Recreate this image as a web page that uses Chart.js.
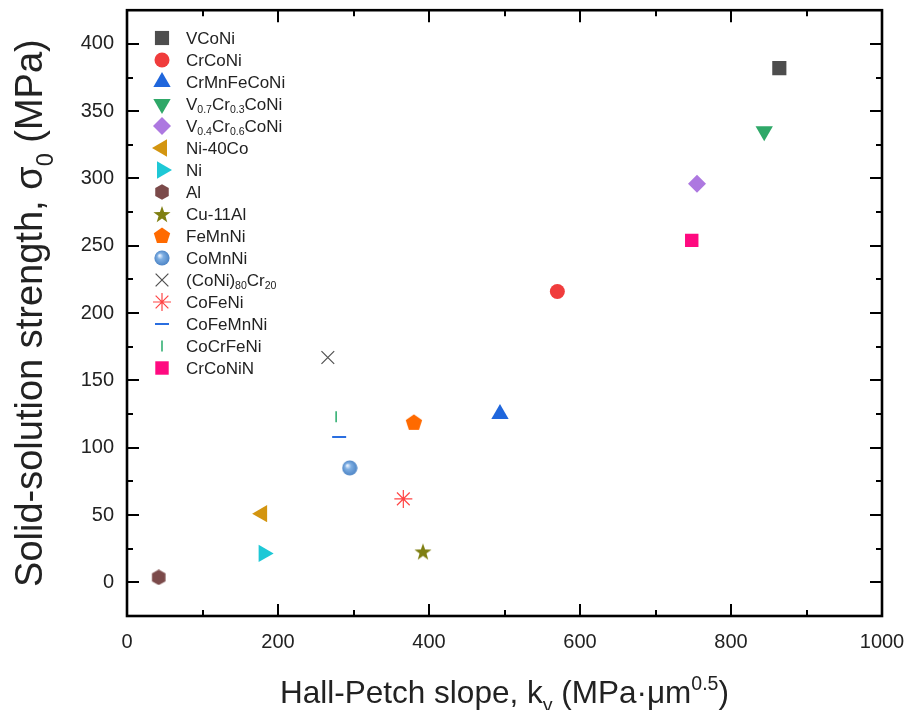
<!DOCTYPE html>
<html>
<head>
<meta charset="utf-8">
<script src="https://cdn.jsdelivr.net/npm/chart.js@4.4.0/dist/chart.umd.min.js"></script>
<style>
  html, body { margin: 0; padding: 0; background: #fff; }
</style>
</head>
<body>
<canvas id="hpChart" width="910" height="710"></canvas>
<script>
// materials, legend labels (with _{sub}) and values
const materials = ['VCoNi', 'CrCoNi', 'CrMnFeCoNi', 'V0.7Cr0.3CoNi', 'V0.4Cr0.6CoNi', 'Ni-40Co', 'Ni', 'Al',
  'Cu-11Al', 'FeMnNi', 'CoMnNi', '(CoNi)80Cr20', 'CoFeNi', 'CoFeMnNi', 'CoCrFeNi', 'CrCoNiN'];
const legendLabels = ['VCoNi', 'CrCoNi', 'CrMnFeCoNi', 'V_{0.7}Cr_{0.3}CoNi', 'V_{0.4}Cr_{0.6}CoNi', 'Ni-40Co', 'Ni', 'Al',
  'Cu-11Al', 'FeMnNi', 'CoMnNi', '(CoNi)_{80}Cr_{20}', 'CoFeNi', 'CoFeMnNi', 'CoCrFeNi', 'CrCoNiN'];
const kyValues = [864, 570, 494, 844, 755, 179, 181, 42, 392, 380, 295, 266, 366, 281, 277, 748];
const sigmaValues = [382, 216, 125, 335, 296, 51, 21.5, 3.7, 23, 118.5, 85, 167, 62, 108, 123, 254];
const xTicks = [0, 200, 400, 600, 800, 1000];
const yTicks = [0, 50, 100, 150, 200, 250, 300, 350, 400];

const FONT = '"Liberation Sans", Arial, sans-serif';

// little canvases for the marker shapes chart.js does not have
function shapeCanvas(size, draw) {
  const c = document.createElement('canvas');
  c.width = size; c.height = size;
  draw(c.getContext('2d'), size / 2);
  return c;
}
function polygon(ctx, c, r, n, start) {
  ctx.beginPath();
  for (let i = 0; i < n; i++) {
    const a = start + i * 2 * Math.PI / n;
    ctx.lineTo(c + r * Math.cos(a), c + r * Math.sin(a));
  }
  ctx.closePath();
}
const hexagon = shapeCanvas(16, (ctx, c) => {
  ctx.fillStyle = '#7b4a4a';
  polygon(ctx, c, 7.8, 6, -Math.PI / 2);
  ctx.fill();
});
const pentagon = shapeCanvas(18, (ctx, c) => {
  ctx.fillStyle = '#ff6a00';
  polygon(ctx, c, 8.6, 5, -Math.PI / 2);
  ctx.fill();
});
const star = shapeCanvas(20, (ctx, c) => {
  ctx.fillStyle = '#7f7f12';
  ctx.beginPath();
  for (let i = 0; i < 10; i++) {
    const r = i % 2 ? 3.6 : 9;
    const a = -Math.PI / 2 + i * Math.PI / 5;
    ctx.lineTo(c + r * Math.cos(a), c + 1 + r * Math.sin(a));
  }
  ctx.closePath();
  ctx.fill();
});
const sphere = shapeCanvas(16, (ctx, c) => {
  const g = ctx.createRadialGradient(c - 2.5, c - 2.5, 0.5, c, c, 8);
  g.addColorStop(0, '#e8f2ff');
  g.addColorStop(0.35, '#7eaee2');
  g.addColorStop(1, '#4a82c4');
  ctx.fillStyle = g;
  ctx.beginPath();
  ctx.arc(c, c, 7.6, 0, 2 * Math.PI);
  ctx.fill();
});

const markerStyles = [
  { color: '#4d4d4d', style: 'rect', radius: 10 },
  { color: '#f03c3c', style: 'circle', radius: 7.5 },
  { color: '#1f66dc', style: 'triangle', radius: 10 },
  { color: '#2fa868', style: 'triangle', radius: 10, rotation: 180 },
  { color: '#ad78e0', style: 'rectRot', radius: 9 },
  { color: '#d39510', style: 'triangle', radius: 10, rotation: -90 },
  { color: '#1ec8d6', style: 'triangle', radius: 10, rotation: 90 },
  { color: '#7b4a4a', style: hexagon, radius: 8 },
  { color: '#7f7f12', style: star, radius: 9 },
  { color: '#ff6a00', style: pentagon, radius: 9 },
  { color: '#5b92d2', style: sphere, radius: 8 },
  { color: '#505050', style: 'crossRot', radius: 9, line: 1.2 },
  { color: '#ff4545', style: 'star', radius: 9, line: 1.2 },
  { color: '#2a6ee0', style: 'line', radius: 7, line: 2 },
  { color: '#33b073', style: 'line', radius: 5.5, line: 1.6, rotation: 90 },
  { color: '#ff0a80', style: 'rect', radius: 9.5 }
];

const datasets = materials.map((name, i) => {
  const m = markerStyles[i];
  return {
    label: name,
    data: [{ x: kyValues[i], y: sigmaValues[i] }],
    pointStyle: m.style,
    pointRadius: m.radius,
    pointRotation: m.rotation || 0,
    backgroundColor: m.color,
    borderColor: m.color,
    borderWidth: m.line || 0,
    showLine: false
  };
});

// text with _{sub} and ^{sup}
function splitRich(text, size) {
  return text.split(/([_^]\{[^}]*\})/).filter(p => p.length).map(p => {
    if (p[0] === '_' && p[1] === '{') return { t: p.slice(2, -1), s: size * 0.62, dy: size * 0.28 };
    if (p[0] === '^' && p[1] === '{') return { t: p.slice(2, -1), s: size * 0.62, dy: -size * 0.42 };
    return { t: p, s: size, dy: 0 };
  });
}
function richText(ctx, text, x, y, size) {
  let cx = x;
  splitRich(text, size).forEach(p => {
    ctx.font = p.s + 'px ' + FONT;
    ctx.fillText(p.t, cx, y + p.dy);
    cx += ctx.measureText(p.t).width;
  });
  return cx - x;
}
function richWidth(ctx, text, size) {
  let w = 0;
  splitRich(text, size).forEach(p => {
    ctx.font = p.s + 'px ' + FONT;
    w += ctx.measureText(p.t).width;
  });
  return w;
}

const framePlugin = {
  id: 'frame',
  afterDatasetsDraw(chart) {
    const ctx = chart.ctx;
    const a = chart.chartArea;
    const xs = chart.scales.x, ys = chart.scales.y;
    ctx.save();
    ctx.strokeStyle = '#000';
    // inward ticks on all four sides
    ctx.lineWidth = 2;
    ctx.beginPath();
    for (let v = 0; v <= 1000; v += 100) {
      const px = Math.round(xs.getPixelForValue(v));
      const len = v % 200 === 0 ? 12 : 6;
      ctx.moveTo(px, a.bottom); ctx.lineTo(px, a.bottom - len);
      ctx.moveTo(px, a.top); ctx.lineTo(px, a.top + len);
    }
    for (let v = 0; v <= 425; v += 25) {
      const py = Math.round(ys.getPixelForValue(v));
      const len = v % 50 === 0 ? 12 : 6;
      ctx.moveTo(a.left, py); ctx.lineTo(a.left + len, py);
      ctx.moveTo(a.right, py); ctx.lineTo(a.right - len, py);
    }
    ctx.stroke();
    ctx.lineWidth = 2.6;
    ctx.strokeRect(a.left, a.top, a.right - a.left, a.bottom - a.top);

    // legend
    ctx.textBaseline = 'middle';
    ctx.textAlign = 'left';
    legendLabels.forEach((lab, i) => {
      const m = markerStyles[i];
      const y = 38 + i * 22;
      ctx.fillStyle = m.color;
      ctx.strokeStyle = m.color;
      ctx.lineWidth = m.line || 0;
      Chart.helpers.drawPoint(ctx, { pointStyle: m.style, radius: m.radius, rotation: m.rotation || 0, borderWidth: m.line || 0 }, 162, y);
      ctx.fillStyle = '#222';
      richText(ctx, lab, 186, y + 1, 17);
    });

    // axis titles
    ctx.fillStyle = '#222';
    ctx.textBaseline = 'alphabetic';
    const xt = 'Hall-Petch slope, k_{y} (MPa\u00b7\u03bcm^{0.5})';
    const xw = richWidth(ctx, xt, 31.5);
    richText(ctx, xt, (a.left + a.right) / 2 - xw / 2, 703, 31.5);
    const yt = 'Solid-solution strength, \u03c3_{0} (MPa)';
    const yw = richWidth(ctx, yt, 38);
    ctx.translate(42, (a.top + a.bottom) / 2);
    ctx.rotate(-Math.PI / 2);
    richText(ctx, yt, -yw / 2, 0, 38);
    ctx.restore();
  }
};

new Chart(document.getElementById('hpChart').getContext('2d'), {
  type: 'scatter',
  data: { datasets: datasets },
  options: {
    responsive: false,
    animation: false,
    layout: { padding: { top: 9, right: 28, left: 0, bottom: 0 } },
    plugins: { legend: { display: false }, tooltip: { enabled: false } },
    scales: {
      x: {
        type: 'linear', min: 0, max: 1000,
        afterBuildTicks: s => { s.ticks = xTicks.map(v => ({ value: v })); },
        afterFit: s => { s.height = 94; s.paddingLeft = 0; s.paddingRight = 0; },
        grid: { display: false, drawTicks: false },
        border: { display: false },
        ticks: { color: '#222', padding: 14, maxRotation: 0, font: { family: FONT, size: 20 }, callback: v => String(v) }
      },
      y: {
        type: 'linear', min: -25, max: 425,
        afterBuildTicks: s => { s.ticks = yTicks.map(v => ({ value: v })); },
        afterFit: s => { s.width = 127; s.paddingTop = 0; s.paddingBottom = 0; },
        grid: { display: false, drawTicks: false },
        border: { display: false },
        ticks: { color: '#222', padding: 13, font: { family: FONT, size: 20 }, callback: v => String(v) }
      }
    }
  },
  plugins: [framePlugin]
});
</script>
</body>
</html>
